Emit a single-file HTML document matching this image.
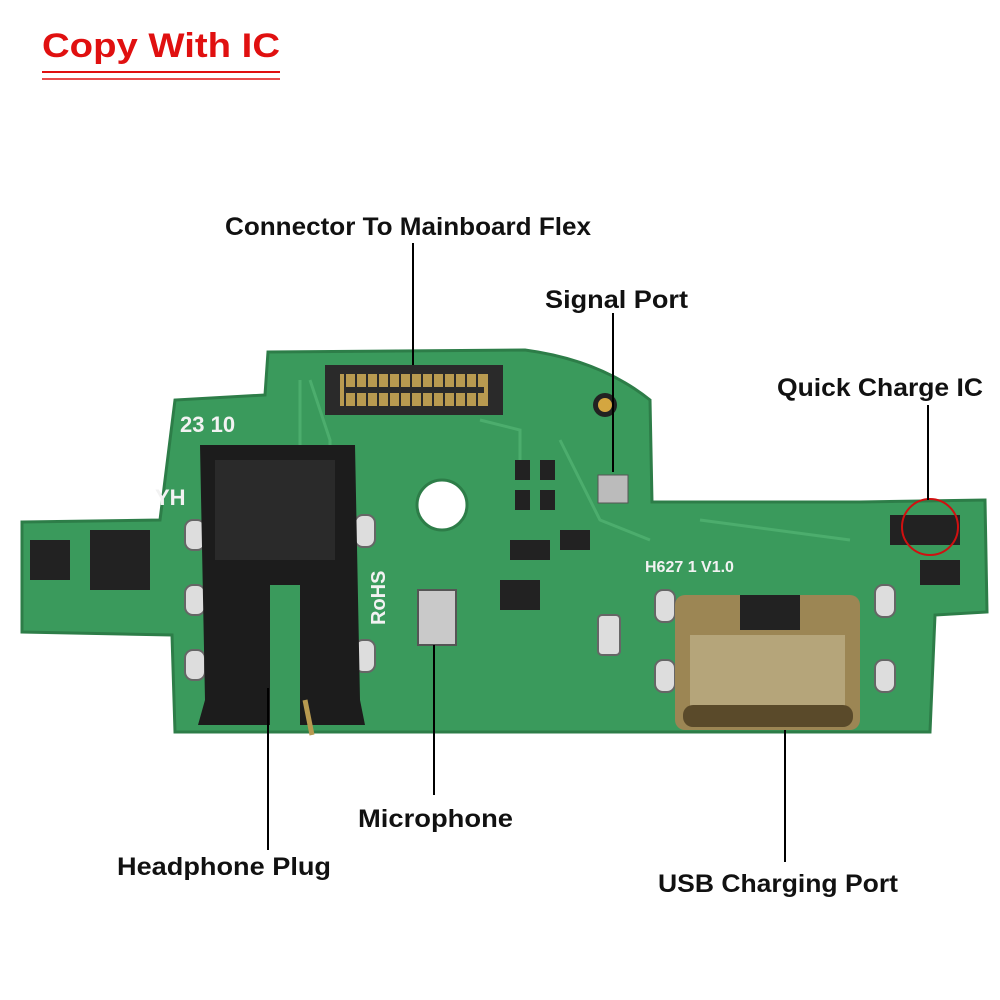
<!DOCTYPE html>
<html><head><meta charset="utf-8"><style>
html,body{margin:0;padding:0;background:#fff}
svg{display:block}
text{font-family:"Liberation Sans",sans-serif;font-weight:bold}
</style></head><body>
<svg width="1000" height="1000" viewBox="0 0 1000 1000">
<rect width="1000" height="1000" fill="#fff"/>
<!-- title -->
<text x="42" y="57" font-size="34" fill="#e01010" textLength="238" lengthAdjust="spacingAndGlyphs">Copy With IC</text>
<line x1="42" y1="72" x2="280" y2="72" stroke="#e01010" stroke-width="2"/>
<line x1="42" y1="79" x2="280" y2="79" stroke="#e01010" stroke-width="1.5"/>
<!-- board -->
<path d="M22,522 L160,520 L175,400 L265,395 L268,352 L525,350 Q600,360 650,400 L652,502 L860,502 L985,500 L987,612 L935,615 L930,732 L175,732 L172,635 L22,632 Z" fill="#3a9a5c" stroke="#2d7d48" stroke-width="3"/>
<path d="M300,380 L300,460 M310,380 L330,440 L330,500 M480,420 L520,430 L520,480 M560,440 L600,520 L650,540 M700,520 L850,540" stroke="#4cad6d" stroke-width="3" fill="none"/>
<!-- connector -->
<rect x="325" y="365" width="178" height="50" fill="#2a2a2a"/>
<rect x="340" y="374" width="148" height="32" fill="#b89a50"/>
<g stroke="#2a2a2a" stroke-width="2">
<line x1="345" y1="374" x2="345" y2="406"/><line x1="356" y1="374" x2="356" y2="406"/><line x1="367" y1="374" x2="367" y2="406"/><line x1="378" y1="374" x2="378" y2="406"/><line x1="389" y1="374" x2="389" y2="406"/><line x1="400" y1="374" x2="400" y2="406"/><line x1="411" y1="374" x2="411" y2="406"/><line x1="422" y1="374" x2="422" y2="406"/><line x1="433" y1="374" x2="433" y2="406"/><line x1="444" y1="374" x2="444" y2="406"/><line x1="455" y1="374" x2="455" y2="406"/><line x1="466" y1="374" x2="466" y2="406"/><line x1="477" y1="374" x2="477" y2="406"/></g>
<rect x="344" y="387" width="140" height="6" fill="#2a2a2a"/>
<!-- hole -->
<circle cx="442" cy="505" r="25" fill="#fff" stroke="#2d7d48" stroke-width="3"/>
<!-- pads -->
<circle cx="605" cy="405" r="12" fill="#222"/><circle cx="605" cy="405" r="7" fill="#d4a640"/>
<rect x="598" y="475" width="30" height="28" fill="#bbb" stroke="#555"/>
<g fill="#222"><rect x="515" y="460" width="15" height="20"/><rect x="540" y="460" width="15" height="20"/><rect x="515" y="490" width="15" height="20"/><rect x="540" y="490" width="15" height="20"/><rect x="510" y="540" width="40" height="20"/><rect x="500" y="580" width="40" height="30"/><rect x="560" y="530" width="30" height="20"/><rect x="30" y="540" width="40" height="40"/><rect x="90" y="530" width="60" height="60"/><rect x="890" y="515" width="70" height="30"/><rect x="920" y="560" width="40" height="25"/></g>
<g fill="#ddd" stroke="#666" stroke-width="2"><rect x="185" y="520" width="20" height="30" rx="8"/><rect x="185" y="585" width="20" height="30" rx="8"/><rect x="185" y="650" width="20" height="30" rx="8"/><rect x="355" y="515" width="20" height="32" rx="8"/><rect x="355" y="640" width="20" height="32" rx="8"/><rect x="655" y="590" width="20" height="32" rx="8"/><rect x="655" y="660" width="20" height="32" rx="8"/><rect x="875" y="585" width="20" height="32" rx="8"/><rect x="875" y="660" width="20" height="32" rx="8"/><rect x="598" y="615" width="22" height="40" rx="4"/></g>
<text x="180" y="432" font-size="22" fill="#f2f2f2" font-weight="normal">23 10</text>
<text x="155" y="505" font-size="22" fill="#f2f2f2" font-weight="normal">YH</text>
<text x="385" y="625" font-size="20" fill="#f2f2f2" font-weight="normal" transform="rotate(-90 385 625)">RoHS</text>
<text x="645" y="572" font-size="16" fill="#f2f2f2" font-weight="normal">H627 1 V1.0</text>
<!-- headphone jack -->
<path d="M200,445 L355,445 L360,700 L365,725 L300,725 L300,585 L270,585 L270,725 L198,725 L205,700 Z" fill="#1c1c1c"/>
<rect x="215" y="460" width="120" height="100" fill="#2a2a2a"/>
<line x1="305" y1="700" x2="312" y2="735" stroke="#b89a50" stroke-width="5"/>
<!-- mic -->
<rect x="418" y="590" width="38" height="55" fill="#c9c9c9" stroke="#555" stroke-width="2"/>
<!-- USB -->
<rect x="675" y="595" width="185" height="135" rx="10" fill="#9c8654"/>
<rect x="690" y="635" width="155" height="75" fill="#b5a57a"/>
<rect x="740" y="595" width="60" height="35" fill="#222"/>
<rect x="683" y="705" width="170" height="22" rx="10" fill="#5a4a2a"/>
<!-- quick charge circle -->
<circle cx="930" cy="527" r="28" fill="none" stroke="#d01010" stroke-width="2"/>
<!-- callout lines -->
<g stroke="#000" stroke-width="2">
<line x1="413" y1="243" x2="413" y2="365"/>
<line x1="613" y1="313" x2="613" y2="472"/>
<line x1="928" y1="405" x2="928" y2="500"/>
<line x1="434" y1="645" x2="434" y2="795"/>
<line x1="268" y1="688" x2="268" y2="850"/>
<line x1="785" y1="730" x2="785" y2="862"/>
</g>
<!-- labels -->
<g font-size="25" fill="#111">
<text x="225" y="235" textLength="366" lengthAdjust="spacingAndGlyphs">Connector To Mainboard Flex</text>
<text x="545" y="308" textLength="143" lengthAdjust="spacingAndGlyphs">Signal Port</text>
<text x="777" y="396" textLength="206" lengthAdjust="spacingAndGlyphs">Quick Charge IC</text>
<text x="358" y="827" textLength="155" lengthAdjust="spacingAndGlyphs">Microphone</text>
<text x="117" y="875" textLength="214" lengthAdjust="spacingAndGlyphs">Headphone Plug</text>
<text x="658" y="892" textLength="240" lengthAdjust="spacingAndGlyphs">USB Charging Port</text>
</g>
</svg>
</body></html>
